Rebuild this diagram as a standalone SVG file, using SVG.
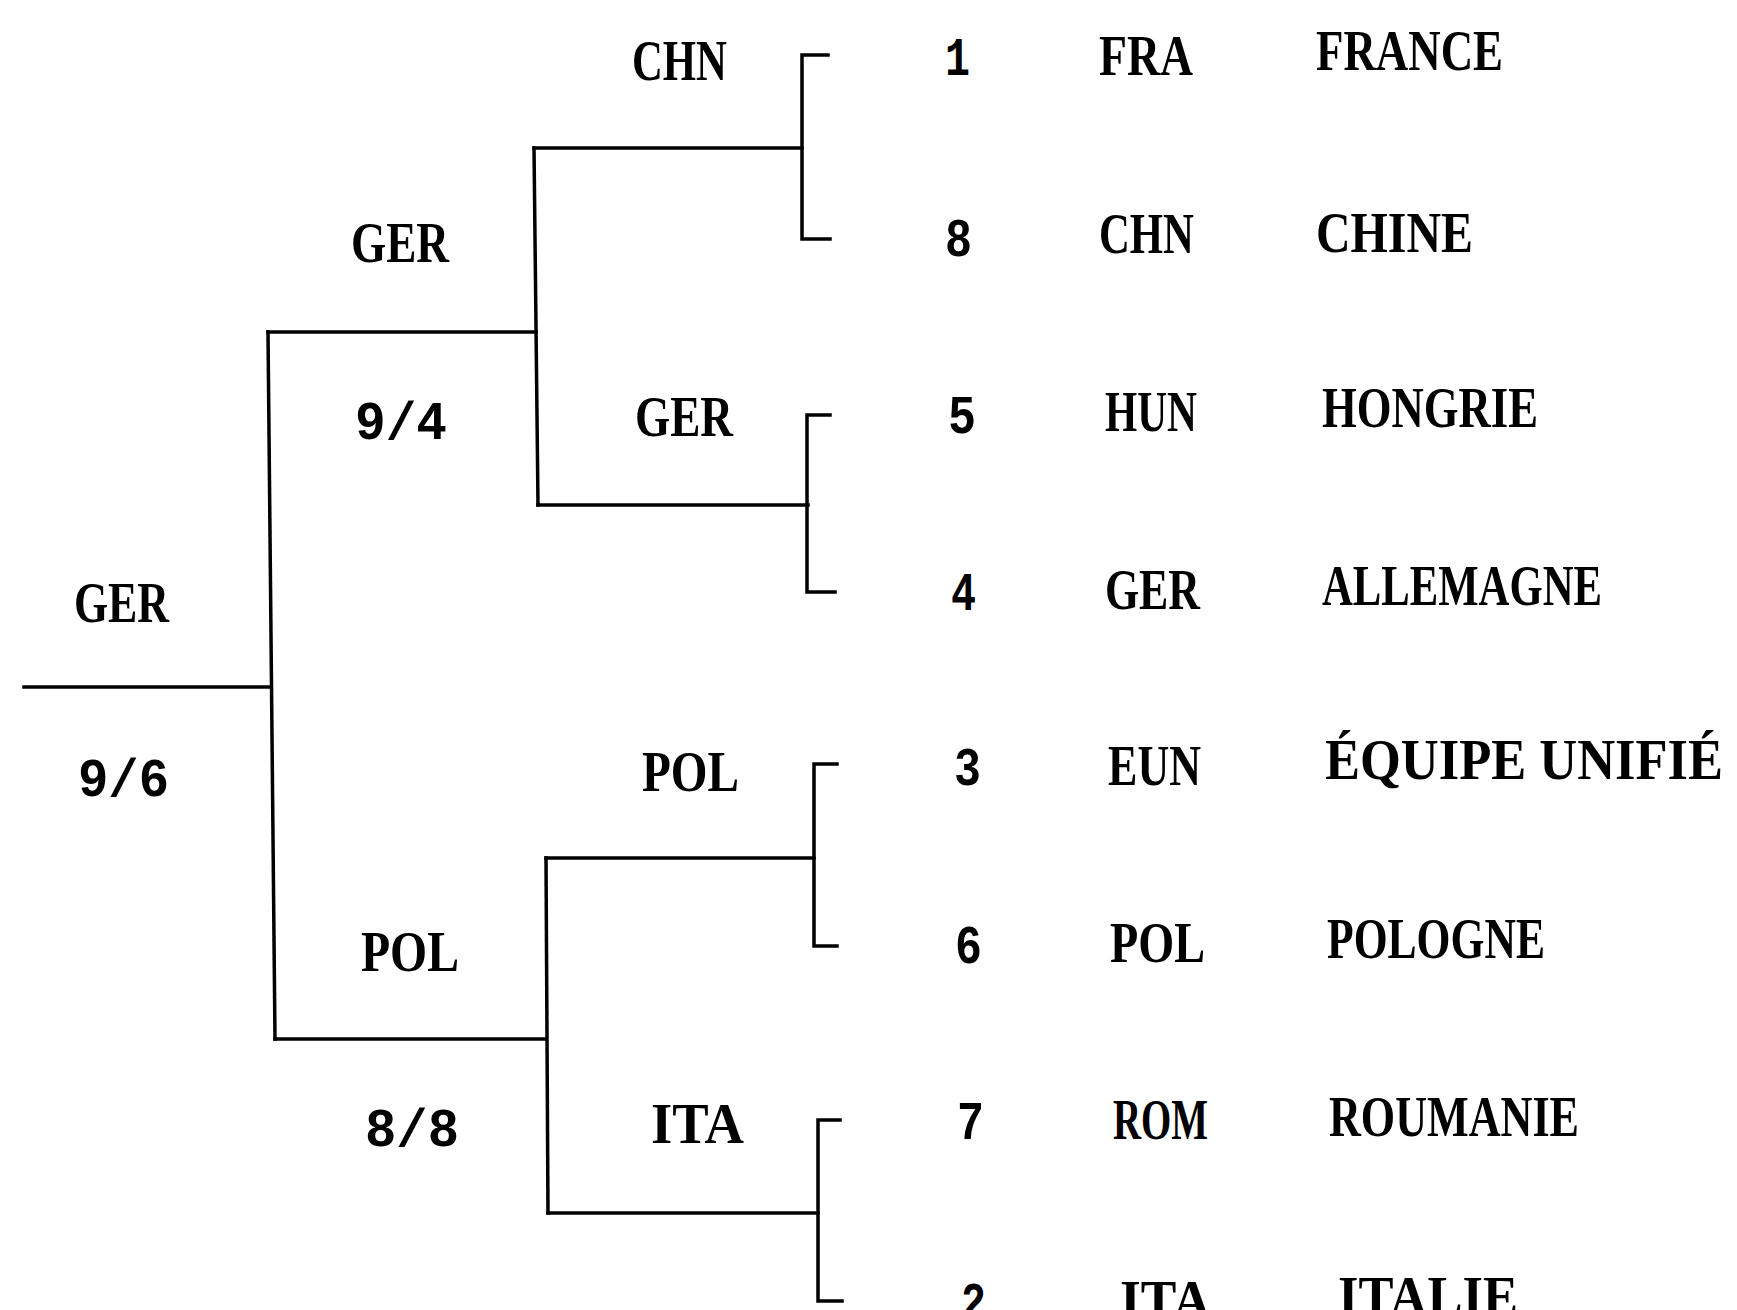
<svg xmlns="http://www.w3.org/2000/svg" width="1737" height="1310" viewBox="0 0 1737 1310">
<style>
.t{font-family:"Liberation Serif","Times New Roman",serif;font-weight:bold;font-size:56px;fill:#000}
.n{font-family:"Liberation Mono","Courier New",monospace;font-weight:bold;font-size:54px;fill:#000}
.c{fill:none;stroke:#000;stroke-width:3.5;stroke-linecap:square}
</style>
<rect width="1737" height="1310" fill="#fff"/>
<g id="connectors">
<path class="c" d="M24 687 H271"/>
<path class="c" d="M268 332 L275 1039"/>
<path class="c" d="M268 332 H536"/>
<path class="c" d="M275 1039 H546"/>
<path class="c" d="M534 148 L538 505"/>
<path class="c" d="M534 148 H802"/>
<path class="c" d="M538 505 H808"/>
<path class="c" d="M546 858 L548 1213"/>
<path class="c" d="M546 858 H814"/>
<path class="c" d="M548 1213 H818"/>
<path class="c" d="M828 55 H802 V239 H830"/>
<path class="c" d="M830 415 H807 V592 H835"/>
<path class="c" d="M837 764 H814 V946 H837"/>
<path class="c" d="M840 1120 H818 V1301 H842"/>
</g>
<g id="final">
<text class="t" x="74" y="622" textLength="95" lengthAdjust="spacingAndGlyphs">GER</text>
<text class="n" x="78" y="796" textLength="91" lengthAdjust="spacingAndGlyphs">9/6</text>
</g>
<g id="semi1">
<text class="t" x="351" y="262" textLength="98" lengthAdjust="spacingAndGlyphs">GER</text>
<text class="n" x="355" y="439" textLength="92" lengthAdjust="spacingAndGlyphs">9/4</text>
</g>
<g id="semi2">
<text class="t" x="361" y="971" textLength="98" lengthAdjust="spacingAndGlyphs">POL</text>
<text class="n" x="365" y="1146" textLength="94" lengthAdjust="spacingAndGlyphs">8/8</text>
</g>
<g id="q1"><text class="t" x="632" y="80" textLength="95" lengthAdjust="spacingAndGlyphs">CHN</text></g>
<g id="q2"><text class="t" x="635" y="436" textLength="98" lengthAdjust="spacingAndGlyphs">GER</text></g>
<g id="q3"><text class="t" x="642" y="791" textLength="97" lengthAdjust="spacingAndGlyphs">POL</text></g>
<g id="q4"><text class="t" x="651" y="1143" textLength="93" lengthAdjust="spacingAndGlyphs">ITA</text></g>
<g id="team1">
<text class="n" x="945" y="75" textLength="25" lengthAdjust="spacingAndGlyphs">1</text>
<text class="t" x="1099" y="75" textLength="94" lengthAdjust="spacingAndGlyphs">FRA</text>
<text class="t" x="1316" y="70" textLength="187" lengthAdjust="spacingAndGlyphs">FRANCE</text>
</g>
<g id="team8">
<text class="n" x="945" y="256" textLength="27" lengthAdjust="spacingAndGlyphs">8</text>
<text class="t" x="1099" y="253" textLength="95" lengthAdjust="spacingAndGlyphs">CHN</text>
<text class="t" x="1316" y="252" textLength="157" lengthAdjust="spacingAndGlyphs">CHINE</text>
</g>
<g id="team5">
<text class="n" x="948" y="433" textLength="28" lengthAdjust="spacingAndGlyphs">5</text>
<text class="t" x="1105" y="431" textLength="92" lengthAdjust="spacingAndGlyphs">HUN</text>
<text class="t" x="1322" y="427" textLength="216" lengthAdjust="spacingAndGlyphs">HONGRIE</text>
</g>
<g id="team4">
<text class="n" x="951" y="610" textLength="25" lengthAdjust="spacingAndGlyphs">4</text>
<text class="t" x="1105" y="609" textLength="95" lengthAdjust="spacingAndGlyphs">GER</text>
<text class="t" x="1322" y="605" textLength="280" lengthAdjust="spacingAndGlyphs">ALLEMAGNE</text>
</g>
<g id="team3">
<text class="n" x="954" y="785" textLength="27" lengthAdjust="spacingAndGlyphs">3</text>
<text class="t" x="1108" y="785" textLength="93" lengthAdjust="spacingAndGlyphs">EUN</text>
<text class="t" x="1325" y="779" textLength="398" lengthAdjust="spacingAndGlyphs">ÉQUIPE UNIFIÉ</text>
</g>
<g id="team6">
<text class="n" x="955" y="963" textLength="27" lengthAdjust="spacingAndGlyphs">6</text>
<text class="t" x="1110" y="962" textLength="95" lengthAdjust="spacingAndGlyphs">POL</text>
<text class="t" x="1327" y="958" textLength="218" lengthAdjust="spacingAndGlyphs">POLOGNE</text>
</g>
<g id="team7">
<text class="n" x="957" y="1139" textLength="27" lengthAdjust="spacingAndGlyphs">7</text>
<text class="t" x="1113" y="1139" textLength="95" lengthAdjust="spacingAndGlyphs">ROM</text>
<text class="t" x="1329" y="1136" textLength="250" lengthAdjust="spacingAndGlyphs">ROUMANIE</text>
</g>
<g id="team2">
<text class="n" x="961" y="1320" textLength="25" lengthAdjust="spacingAndGlyphs">2</text>
<text class="t" x="1120" y="1320" textLength="91" lengthAdjust="spacingAndGlyphs">ITA</text>
<text class="t" x="1338" y="1316" textLength="180" lengthAdjust="spacingAndGlyphs">ITALIE</text>
</g>
</svg>
